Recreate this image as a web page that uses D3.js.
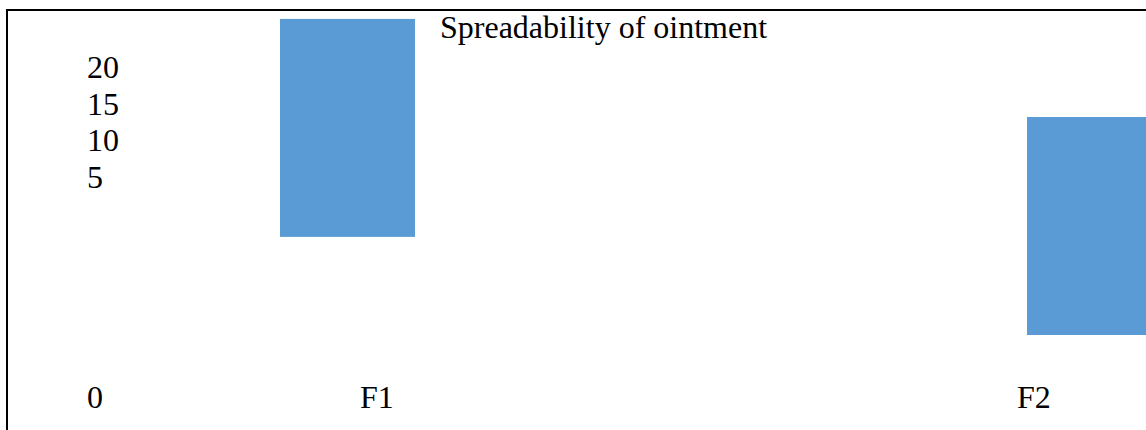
<!DOCTYPE html>
<html>
<head>
<meta charset="utf-8">
<script src="https://cdn.jsdelivr.net/npm/d3@7"></script>
<style>
  html, body { margin: 0; padding: 0; background: #ffffff; overflow: hidden; }
  svg { display: block; }
  text { font-family: "Liberation Serif", "Times New Roman", serif; fill: #000000; }
</style>
</head>
<body>
<svg id="chart" width="1146" height="430"></svg>
<script>
// Chart content
const chartTitle = "Spreadability of ointment";
const categories = ["F1", "F2"];
const barBase = [9, 0];     // lower end of each bar
const barTop = [29, 20];    // upper end of each bar
const yTickLabels = ["20", "15", "10", "5"];
const zeroLabel = "0";

const W = 1146, H = 430;
const svg = d3.select("#chart");

// Value scale shared by both bars
const y = d3.scaleLinear().domain([0, 20]).range([335, 117]);

// Bar positions
const x = d3.scaleBand()
  .domain(categories)
  .range([280, 1162])
  .paddingInner(0.8193)
  .paddingOuter(0);

// Category label row
const xLabel = d3.scalePoint().domain(categories).range([360, 1017]);

// Tick label column
const yLabel = d3.scalePoint().domain(yTickLabels).range([78, 188]);

// Frame (top and left edges)
svg.append("line")
  .attr("x1", 7).attr("x2", W).attr("y1", 10).attr("y2", 10)
  .attr("stroke", "#000").attr("stroke-width", 2);
svg.append("line")
  .attr("x1", 7).attr("x2", 7).attr("y1", 9).attr("y2", H)
  .attr("stroke", "#000").attr("stroke-width", 2);

// Bars
const bars = categories.map((c, i) => ({ cat: c, lo: barBase[i], hi: barTop[i] }));
svg.append("g").selectAll("rect")
  .data(bars)
  .join("rect")
  .attr("x", d => x(d.cat))
  .attr("width", x.bandwidth())
  .attr("y", d => y(d.hi))
  .attr("height", d => y(d.lo) - y(d.hi))
  .attr("fill", "#5b9bd5");

// Title
svg.append("text")
  .attr("x", 440).attr("y", 38)
  .attr("font-size", 32)
  .text(chartTitle);

// Tick labels
svg.append("g").selectAll("text")
  .data(yTickLabels)
  .join("text")
  .attr("x", 87)
  .attr("y", d => yLabel(d))
  .attr("font-size", 32)
  .text(d => d);

svg.append("text")
  .attr("x", 87).attr("y", 408)
  .attr("font-size", 32)
  .text(zeroLabel);

// Category labels
svg.append("g").selectAll("text")
  .data(categories)
  .join("text")
  .attr("x", d => xLabel(d))
  .attr("y", 408)
  .attr("font-size", 32)
  .text(d => d);
</script>
</body>
</html>
